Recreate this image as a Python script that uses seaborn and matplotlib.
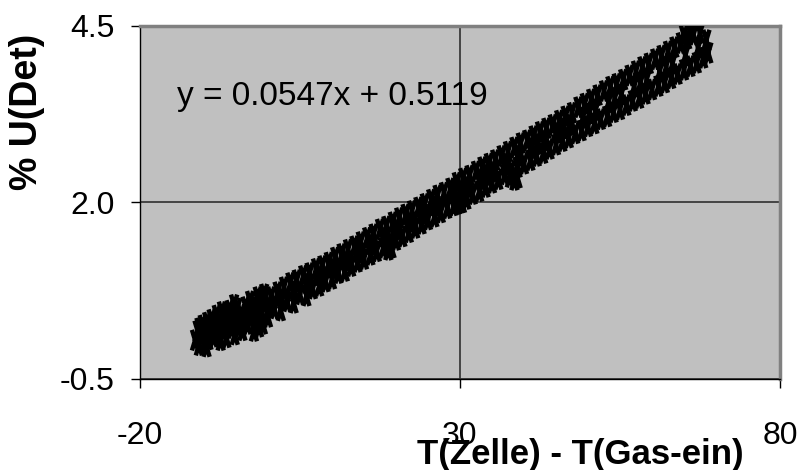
import matplotlib
matplotlib.use("Agg")
import matplotlib.pyplot as plt
import seaborn as sns
import pandas as pd
from matplotlib.path import Path
from matplotlib.markers import MarkerStyle

# ---- data ----
x_low = [-11.4, -11.0, -10.8, -10.5, -10.2, -10.0, -9.8, -9.5, -9.3, -9.0,
         -8.8, -8.5, -8.2, -8.0, -7.7, -7.5, -7.2, -7.0, -6.8, -6.5,
         -6.2, -6.0, -5.7, -5.5, -5.2, -5.0, -4.8, -4.5, -4.2, -4.0,
         -3.7, -3.5, -3.2, -3.0, -10.7, -9.6, -8.6, -7.4, -6.4, -5.3,
         -2.8, -2.2, -1.6, -1.4, -0.8, -0.6]
y_low = [0.05, 0.18, -0.02, 0.12, 0.26, 0.02, 0.15, 0.30, 0.06, 0.20,
         0.34, 0.10, 0.25, 0.40, 0.14, 0.31, 0.45, 0.18, 0.36, 0.09,
         0.28, 0.47, 0.22, 0.38, 0.13, 0.30, 0.50, 0.24, 0.41, 0.19,
         0.35, 0.52, 0.28, 0.44, 0.22, -0.04, 0.27, 0.05, 0.42, 0.55,
         0.60, 0.18, 0.66, 0.24, 0.28, 0.70]

x_mid = [-2.5, -2.0, -1.5, -1.0, -0.5, 0.0, 0.5, 1.0, 1.5, 2.0,
         2.5, 3.0, 3.5, 4.0, 4.5, 5.0, 5.5, 6.0, 6.5, 7.0,
         7.5, 8.0, 8.5, 9.0, 9.5, 10.0, 10.5, 11.0, 11.5, 12.0,
         12.5, 13.0, 13.5, 14.0, 14.5, 15.0, 15.5, 16.0, 16.5, 17.0,
         17.5, 18.0, 18.5, 19.0, 19.5, 20.0, 20.5, 21.0, 21.5, 22.0,
         22.5, 23.0, 23.5, 24.0, 24.5, 25.0, 25.5, 26.0, 26.5, 27.0,
         27.5, 28.0, -1.8, 2.2, 6.2, 10.2, 14.2, 18.2, 22.2, 26.2,
         18.8, 19.3, 0.2, 4.2, 8.2, 12.2, 16.2, 20.2, 24.2]
y_mid = [0.52, 0.30, 0.58, 0.41, 0.62, 0.38, 0.66, 0.50, 0.73, 0.47,
         0.80, 0.60, 0.86, 0.58, 0.90, 0.70, 0.96, 0.68, 1.00, 0.78,
         1.06, 0.82, 1.10, 0.88, 1.15, 0.92, 1.22, 1.00, 1.27, 1.03,
         1.33, 1.10, 1.38, 1.16, 1.44, 1.20, 1.50, 1.26, 1.55, 1.31,
         1.62, 1.36, 1.66, 1.42, 1.72, 1.47, 1.78, 1.52, 1.83, 1.58,
         1.88, 1.64, 1.93, 1.70, 1.98, 1.76, 2.04, 1.80, 2.10, 1.86,
         2.14, 1.92, 0.45, 0.64, 0.85, 1.07, 1.29, 1.51, 1.73, 1.95,
         1.33, 1.36, 0.53, 0.74, 0.96, 1.18, 1.40, 1.62, 1.84]

x_up = [28.5, 29.0, 29.5, 30.0, 30.5, 31.0, 31.5, 32.0, 32.5, 33.0,
        33.5, 34.0, 34.5, 35.0, 35.5, 36.0, 36.5, 37.0, 37.5, 38.0,
        38.5, 39.0, 39.5, 40.0, 40.5, 41.0, 41.5, 42.0, 42.5, 43.0,
        43.5, 44.0, 44.5, 45.0, 45.5, 46.0, 46.5, 47.0, 47.5, 48.0,
        29.2, 31.2, 33.2, 35.2, 37.2, 39.2, 41.2, 43.2, 45.2, 47.2,
        37.8, 38.5, 39.0, 29.6, 30.3, 30.2, 34.2, 42.2, 46.2]
y_up = [2.20, 1.96, 2.28, 2.00, 2.34, 2.05, 2.38, 2.12, 2.44, 2.16,
        2.50, 2.22, 2.55, 2.28, 2.60, 2.33, 2.66, 2.40, 2.72, 2.45,
        2.78, 2.50, 2.84, 2.55, 2.88, 2.60, 2.94, 2.66, 3.00, 2.70,
        3.05, 2.76, 3.10, 2.82, 3.16, 2.87, 3.22, 2.92, 3.27, 2.98,
        2.12, 2.22, 2.33, 2.44, 2.55, 2.66, 2.77, 2.88, 2.99, 3.10,
        2.36, 2.32, 2.35, 1.98, 2.00, 2.17, 2.39, 2.83, 3.05]

x_top = [48.5, 49.0, 49.5, 50.0, 50.5, 51.0, 51.5, 52.0, 52.5, 53.0,
         53.5, 54.0, 54.5, 55.0, 55.5, 56.0, 56.5, 57.0, 57.5, 58.0,
         58.5, 59.0, 59.5, 60.0, 60.5, 61.0, 61.5, 62.0, 62.5, 63.0,
         63.5, 64.0, 64.5, 65.0, 65.5, 66.0, 66.5, 67.0, 67.5, 68.0,
         68.5, 68.8, 49.2, 51.2, 53.2, 55.2, 57.2, 59.2, 61.2, 63.2,
         65.2, 67.2, 66.0, 65.0, 50.2, 54.2, 58.2, 62.2]
y_top = [3.35, 3.02, 3.40, 3.08, 3.46, 3.12, 3.52, 3.18, 3.58, 3.22,
         3.64, 3.28, 3.68, 3.32, 3.74, 3.38, 3.80, 3.44, 3.86, 3.48,
         3.92, 3.54, 3.97, 3.60, 4.03, 3.65, 4.08, 3.70, 4.14, 3.76,
         4.20, 3.82, 4.26, 3.88, 4.32, 3.93, 4.38, 3.98, 4.40, 4.05,
         4.30, 4.12, 3.20, 3.31, 3.42, 3.53, 3.64, 3.75, 3.86, 3.97,
         4.08, 4.19, 4.42, 4.36, 3.26, 3.48, 3.70, 3.92]

x_ticks = [-20, 30, 80]
x_tick_labels = ["-20", "30", "80"]
y_ticks = [-0.5, 2.0, 4.5]
y_tick_labels = ["-0.5", "2.0", "4.5"]
equation_text = "y = 0.0547x + 0.5119"
x_title = "T(Zelle) - T(Gas-ein)"
y_title = "% U(Det)"

df = pd.DataFrame({
    "dT": x_low + x_mid + x_up + x_top,
    "U": y_low + y_mid + y_up + y_top,
})

sns.set_theme(style="white")
plt.rcParams["font.family"] = ["Liberation Sans", "DejaVu Sans"]

fig = plt.figure(figsize=(8, 4.7), dpi=100)
ax = fig.add_axes([140 / 800, 1 - 379 / 470, 640 / 800, 353 / 470])
ax.set_facecolor("#C0C0C0")

# tall, steep "x" marker like the spreadsheet one
xmark = Path([(-0.3, -1), (0.3, 1), (-0.3, 1), (0.3, -1)],
             [Path.MOVETO, Path.LINETO, Path.MOVETO, Path.LINETO])
marker = MarkerStyle(xmark, fillstyle="none")

sns.scatterplot(data=df, x="dT", y="U", ax=ax, marker=marker, s=220,
                color="black", linewidth=3.2, legend=False, zorder=3)

ax.set_xlim(-20, 80)
ax.set_ylim(-0.5, 4.5)
ax.set_xticks(x_ticks)
ax.set_xticklabels(x_tick_labels)
ax.set_yticks(y_ticks)
ax.set_yticklabels(y_tick_labels)
ax.set_xlabel("")
ax.set_ylabel("")

ax.set_axisbelow(True)
ax.grid(True, color="#3a3a3a", linewidth=1.3)

for side in ["left", "bottom"]:
    ax.spines[side].set_color("black")
    ax.spines[side].set_linewidth(1.0)
for side in ["top", "right"]:
    ax.spines[side].set_color("#808080")
    ax.spines[side].set_linewidth(2.5)

ax.tick_params(axis="both", which="major", direction="out", length=6.5,
               width=1, color="black", labelsize=23, labelcolor="black",
               bottom=True, left=True)
ax.tick_params(axis="x", pad=24)
ax.tick_params(axis="y", pad=12)

ax.text(-14.2, 3.38, equation_text, fontsize=24, color="black",
        ha="left", va="baseline", zorder=4)

fig.text(580 / 800, 1 - 464 / 470, x_title, fontsize=25, fontweight="bold",
         ha="center", va="baseline", color="black")
fig.text(27 / 800, 1 - 112 / 470, y_title, fontsize=27, fontweight="bold",
         rotation=90, ha="center", va="center", color="black")

fig.savefig("out.png", dpi=100)
